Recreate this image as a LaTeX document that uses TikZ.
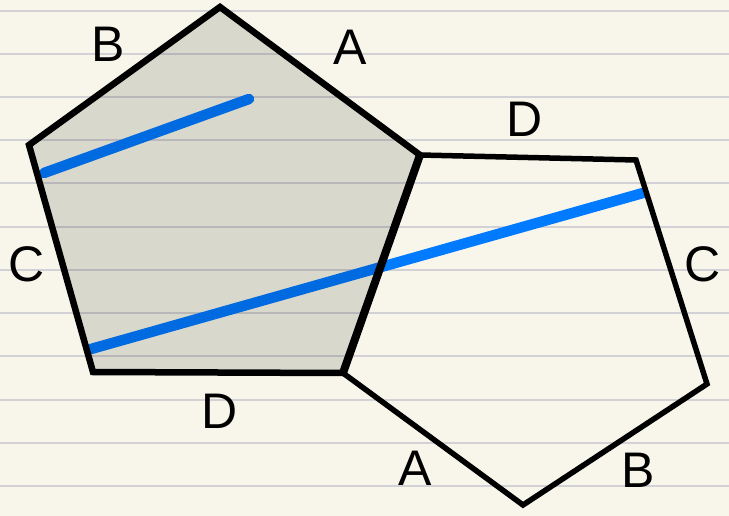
\documentclass[tikz,border=0pt]{standalone}
\usepackage{fontspec}
\setmainfont{Liberation Sans}
\definecolor{paper}{HTML}{F8F6EA}
\definecolor{rulecol}{HTML}{D2D2D6}
\definecolor{iosblue}{HTML}{007AFF}
\begin{document}
\begin{tikzpicture}[x=1pt,y=-1pt,
  lbl/.style={anchor=base,inner sep=0pt,font=\fontsize{50}{50}\selectfont},
  edgeline/.style={line width=6.5pt,line join=miter,black},
  thinedge/.style={line width=5.5pt,line join=miter,black},
  sharededge/.style={line width=8pt,black},
  blueline/.style={line width=10.5pt,line cap=round,draw=iosblue},
  ruleline/.style={line width=2pt,draw=rulecol},
  shade/.style={fill=black,fill opacity=0.12}]
\fill[paper] (0,0) rectangle (729,516);
\useasboundingbox (0,0) rectangle (729,516);
\foreach \k in {0,...,11}{
  \draw[ruleline] (0,10.7+43.2*\k) -- (729,10.7+43.2*\k);
}
% vertices
\coordinate (L1) at (220,7);
\coordinate (L2) at (420,155);
\coordinate (L3) at (343,373);
\coordinate (L4) at (93,372);
\coordinate (L5) at (29,145);
\coordinate (R2) at (636,160);
\coordinate (R3) at (707,384);
\coordinate (R4) at (523,505);
% blue segments
\coordinate (s1) at (44,173);
\coordinate (s2) at (249,99);
\coordinate (t1) at (91,349);
\coordinate (t2) at (643,193);
\draw[blueline] (s1) -- (s2);
\draw[blueline] (t1) -- (t2);
% shaded pentagon
\fill[shade] (L1) -- (L2) -- (L3) -- (L4) -- (L5) -- cycle;
\draw[thinedge] (L2) -- (R2) -- (R3) -- (R4) -- (L3);
\draw[edgeline] (L1) -- (L2) -- (L3) -- (L4) -- (L5) -- cycle;
\draw[sharededge] (L2) -- (L3);
% labels
\node[lbl] (lB1) at (108,62) {B};
\node[lbl] (lA1) at (350,65) {A};
\node[lbl] (lD1) at (525,137) {D};
\node[lbl] (lC1) at (27,281) {C};
\node[lbl] (lD2) at (220,428) {D};
\node[lbl] (lC2) at (703,281) {C};
\node[lbl] (lA2) at (415,485) {A};
\node[lbl] (lB2) at (638,487) {B};
\end{tikzpicture}
\end{document}
